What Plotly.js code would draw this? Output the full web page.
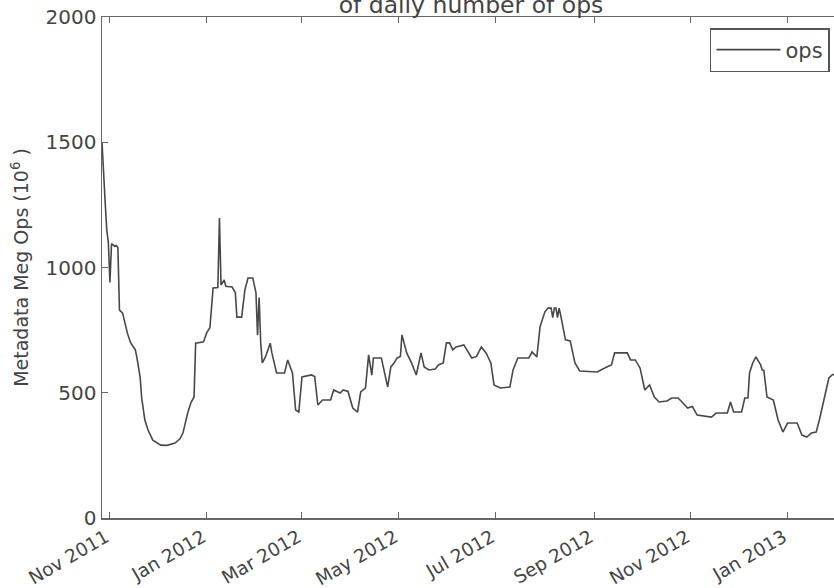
<!DOCTYPE html>
<html>
<head>
<meta charset="utf-8">
<script src="https://cdn.plot.ly/plotly-3.0.1.min.js"></script>
<style>
html,body{margin:0;padding:0;overflow:hidden;background:#fff;width:834px;height:588px;}
#chart{width:850px;height:588px;}
</style>
</head>
<body>
<div id="chart"></div>
<script>
const dates = [
"2011-10-27","2011-10-28","2011-10-29","2011-10-30","2011-10-31","2011-11-01","2011-11-02","2011-11-03","2011-11-04","2011-11-05",
"2011-11-06","2011-11-07","2011-11-09","2011-11-12","2011-11-14","2011-11-17","2011-11-18","2011-11-20","2011-11-21","2011-11-23",
"2011-11-25","2011-11-28","2011-12-03","2011-12-07","2011-12-12","2011-12-15","2011-12-17","2011-12-20","2011-12-22","2011-12-24",
"2011-12-25","2011-12-30","2012-01-01","2012-01-03","2012-01-05","2012-01-08","2012-01-09","2012-01-10","2012-01-12","2012-01-13",
"2012-01-17","2012-01-19","2012-01-20","2012-01-23","2012-01-25","2012-01-27","2012-01-30","2012-02-01","2012-02-02","2012-02-03",
"2012-02-04","2012-02-05","2012-02-07","2012-02-10","2012-02-11","2012-02-14","2012-02-19","2012-02-21","2012-02-24","2012-02-26",
"2012-02-28","2012-03-01","2012-03-07","2012-03-09","2012-03-11","2012-03-14","2012-03-19","2012-03-21","2012-03-25","2012-03-27",
"2012-03-30","2012-04-02","2012-04-05","2012-04-07","2012-04-10","2012-04-12","2012-04-13","2012-04-14","2012-04-15","2012-04-20",
"2012-04-24","2012-04-26","2012-04-28","2012-04-30","2012-05-02","2012-05-03","2012-05-06","2012-05-09","2012-05-12","2012-05-15",
"2012-05-17","2012-05-20","2012-05-24","2012-05-26","2012-05-29","2012-05-31","2012-06-02","2012-06-04","2012-06-06","2012-06-11",
"2012-06-16","2012-06-19","2012-06-22","2012-06-25","2012-06-28","2012-06-30","2012-07-04","2012-07-10","2012-07-12","2012-07-15",
"2012-07-22","2012-07-24","2012-07-27","2012-07-29","2012-08-01","2012-08-03","2012-08-05","2012-08-06","2012-08-07","2012-08-08",
"2012-08-09","2012-08-10","2012-08-11","2012-08-14","2012-08-17","2012-08-20","2012-08-23","2012-09-03","2012-09-09","2012-09-12",
"2012-09-14","2012-09-22","2012-09-24","2012-09-27","2012-09-30","2012-10-03","2012-10-06","2012-10-09","2012-10-12","2012-10-17",
"2012-10-20","2012-10-24","2012-10-27","2012-10-30","2012-11-02","2012-11-05","2012-11-14","2012-11-17","2012-11-24","2012-11-26",
"2012-11-28","2012-12-03","2012-12-05","2012-12-07","2012-12-08","2012-12-10","2012-12-12","2012-12-15","2012-12-16","2012-12-17",
"2012-12-19","2012-12-23","2012-12-26","2012-12-29","2013-01-01","2013-01-07","2013-01-10","2013-01-13","2013-01-16","2013-01-19",
"2013-01-21","2013-01-24","2013-01-27","2013-01-29","2013-02-01","2013-02-03"
];
const ops = [
1500,1400,1260,1150,1100,940,1095,1090,1085,1088,
1080,830,818,738,700,671,640,563,480,391,
351,311,291,290,299,315,339,419,460,483,
698,703,740,760,918,920,1198,930,950,925,
922,900,802,802,910,958,958,900,730,880,
700,619,643,698,660,579,579,631,579,431,
423,563,571,565,451,471,471,511,499,511,
505,439,423,503,519,651,600,570,639,639,
523,603,619,639,645,731,659,619,571,659,
603,591,595,611,619,699,699,671,683,691,
639,645,683,659,619,531,519,523,591,639,
639,663,643,763,822,838,838,800,838,838,
800,838,810,711,707,619,587,583,603,611,
659,659,631,631,599,511,531,483,463,467,
479,479,459,439,445,411,403,419,419,463,
423,423,479,479,579,619,643,611,591,590,
483,471,391,343,379,379,331,323,339,343,
391,471,559,571,575,580
];
const tickDates = ["2011-11-01","2012-01-01","2012-03-01","2012-05-01","2012-07-01","2012-09-01","2012-11-01","2013-01-01"];
const tickLabels = ["Nov 2011","Jan 2012","Mar 2012","May 2012","Jul 2012","Sep 2012","Nov 2012","Jan 2013"];
const yTicks = [0,500,1000,1500,2000];
const seriesName = "ops";
const titleText = "of daily number of ops";
const yTitle = "Metadata Meg Ops (10<sup>6</sup> )";

const font = "DejaVu Sans, sans-serif";
Plotly.newPlot("chart", [{
  x: dates, y: ops, type: "scatter", mode: "lines", name: seriesName,
  line: {color: "#484848", width: 1.6}
}], {
  width: 850, height: 588,
  margin: {l: 102, r: 10, t: 17, b: 70},
  paper_bgcolor: "#fff", plot_bgcolor: "#fff",
  font: {family: font, color: "#444"},
  title: {text: titleText, font: {family: font, size: 23.5, color: "#444"},
          x: 0.5, xanchor: "center", xref: "paper", y: 1, yref: "paper", yanchor: "bottom",
          pad: {b: 4, t: 0, l: 0, r: 0}},
  showlegend: true,
  legend: {x: 0.9864, xanchor: "right", y: 0.978, yanchor: "top",
           bordercolor: "#555", borderwidth: 1.5, bgcolor: "#fff",
           itemwidth: 64, entrywidth: 121,
           font: {family: font, size: 21, color: "#444"}},
  xaxis: {type: "date", range: ["2011-10-27", "2013-02-03"],
          tickmode: "array", tickvals: tickDates, ticktext: tickLabels,
          tickangle: -30, ticks: "inside", ticklen: 6, tickcolor: "#666", tickwidth: 1,
          ticklabelshift: -4,
          showline: true, linecolor: "#666", linewidth: 1.5, mirror: "ticks",
          showgrid: false, zeroline: false, automargin: false,
          tickfont: {family: font, size: 18.5, color: "#444"}},
  yaxis: {range: [0, 2000], tickmode: "array", tickvals: yTicks,
          ticks: "inside", ticklen: 6, tickcolor: "#666", tickwidth: 1,
          showline: true, linecolor: "#666", linewidth: 1.5, mirror: "ticks",
          showgrid: false, zeroline: false, automargin: false,
          tickfont: {family: font, size: 20, color: "#444"},
          title: {text: yTitle, font: {family: font, size: 19, color: "#444"}, standoff: 12}}
}, {displayModeBar: false, staticPlot: true});
</script>
</body>
</html>
